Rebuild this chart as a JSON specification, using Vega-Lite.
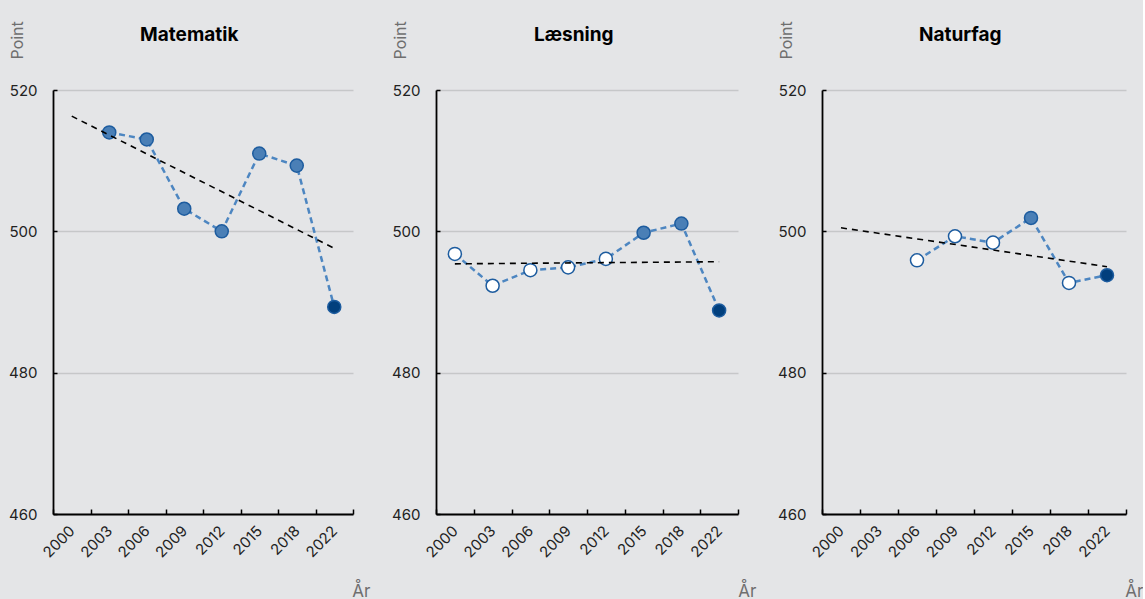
{
  "$schema": "https://vega.github.io/schema/vega-lite/v6.json",
  "background": "#e4e5e7",
  "padding": {"left": 8, "top": 20, "right": 0, "bottom": 0},
  "spacing": 21,
  "datasets": {
    "scores": [
      {"fag": "Matematik", "år": "2003", "point": 514, "status": "signifikant"},
      {"fag": "Matematik", "år": "2006", "point": 513, "status": "signifikant"},
      {"fag": "Matematik", "år": "2009", "point": 503.2, "status": "signifikant"},
      {"fag": "Matematik", "år": "2012", "point": 500, "status": "signifikant"},
      {"fag": "Matematik", "år": "2015", "point": 511, "status": "signifikant"},
      {"fag": "Matematik", "år": "2018", "point": 509.3, "status": "signifikant"},
      {"fag": "Matematik", "år": "2022", "point": 489.3, "status": "2022"},
      {"fag": "Læsning", "år": "2000", "point": 496.8, "status": "ikke signifikant"},
      {"fag": "Læsning", "år": "2003", "point": 492.3, "status": "ikke signifikant"},
      {"fag": "Læsning", "år": "2006", "point": 494.5, "status": "ikke signifikant"},
      {"fag": "Læsning", "år": "2009", "point": 494.9, "status": "ikke signifikant"},
      {"fag": "Læsning", "år": "2012", "point": 496.1, "status": "ikke signifikant"},
      {"fag": "Læsning", "år": "2015", "point": 499.8, "status": "signifikant"},
      {"fag": "Læsning", "år": "2018", "point": 501.1, "status": "signifikant"},
      {"fag": "Læsning", "år": "2022", "point": 488.8, "status": "2022"},
      {"fag": "Naturfag", "år": "2006", "point": 495.9, "status": "ikke signifikant"},
      {"fag": "Naturfag", "år": "2009", "point": 499.3, "status": "ikke signifikant"},
      {"fag": "Naturfag", "år": "2012", "point": 498.4, "status": "ikke signifikant"},
      {"fag": "Naturfag", "år": "2015", "point": 501.9, "status": "signifikant"},
      {"fag": "Naturfag", "år": "2018", "point": 492.7, "status": "ikke signifikant"},
      {"fag": "Naturfag", "år": "2022", "point": 493.8, "status": "2022"}
    ],
    "trend": [
      {"fag": "Matematik", "år": "2000", "point": 516.3},
      {"fag": "Matematik", "år": "2022", "point": 497.6},
      {"fag": "Læsning", "år": "2000", "point": 495.4},
      {"fag": "Læsning", "år": "2022", "point": 495.7},
      {"fag": "Naturfag", "år": "2000", "point": 500.5},
      {"fag": "Naturfag", "år": "2022", "point": 495.0}
    ]
  },
  "config": {
    "font": "Inter",
    "view": {"stroke": null},
    "title": {"fontSize": 19, "fontWeight": "bold", "color": "#000000", "anchor": "middle", "frame": "bounds", "offset": -24},
    "axis": {
      "domainColor": "#000000",
      "domainWidth": 1.8,
      "tickColor": "#000000",
      "tickWidth": 1.5,
      "labelColor": "#222222",
      "labelFontSize": 15,
      "titleColor": "#6f6f6f",
      "titleFontWeight": "normal",
      "titleFontSize": 16
    }
  },
  "hconcat": [
    {
      "width": 300, "height": 424,
      "title": {"text": "Matematik"},
      "layer": [
        {"data": {"name": "scores"}, "transform": [{"filter": "datum.fag === 'Matematik'"}],
         "mark": {"type": "line", "color": "#4d86c1", "strokeWidth": 2.5, "strokeDash": [6, 4]},
         "encoding": {
           "x": {"field": "år", "type": "ordinal", "scale": {"type": "band", "domain": ["2000","2003","2006","2009","2012","2015","2018","2022"], "paddingInner": 0, "paddingOuter": 0},
                 "axis": {"title": "År", "tickBand": "extent", "tickSize": -5, "labelAngle": -45, "labelAlign": "right", "labelBaseline": "middle", "labelPadding": 19, "labelFontSize": 15, "grid": false, "titleAnchor": "end", "titleAlign": "right", "titleBaseline": "alphabetic", "titleFontSize": 17, "titleX": 317, "titleY": 82}},
           "y": {"field": "point", "type": "quantitative", "scale": {"domain": [460, 520], "nice": false, "zero": false},
                 "axis": {"title": "Point", "values": [460, 480, 500, 520], "grid": true, "gridColor": "#c6c7c9", "gridWidth": 1.6, "tickSize": -4, "labelPadding": 20, "titleAngle": -90, "titleAlign": "left", "titleBaseline": "middle", "titleX": -36, "titleY": -31}}
         }},
        {"data": {"name": "scores"}, "transform": [{"filter": "datum.fag === 'Matematik'"}],
         "mark": {"type": "point", "filled": true, "size": 170, "opacity": 1, "strokeWidth": 1.5, "stroke": "#1d5c9f"},
         "encoding": {
           "x": {"field": "år", "type": "ordinal"},
           "y": {"field": "point", "type": "quantitative"},
           "fill": {"field": "status", "type": "nominal", "scale": {"domain": ["ikke signifikant", "signifikant", "2022"], "range": ["#ffffff", "#4a7fb6", "#013f7d"]}, "legend": null}
         }},
        {"data": {"name": "trend"}, "transform": [{"filter": "datum.fag === 'Matematik'"}],
         "mark": {"type": "line", "color": "#000000", "strokeWidth": 1.6, "strokeDash": [6, 5]},
         "encoding": {"x": {"field": "år", "type": "ordinal"}, "y": {"field": "point", "type": "quantitative"}}}
      ]
    },
    {
      "width": 302, "height": 424,
      "title": {"text": "Læsning"},
      "layer": [
        {"data": {"name": "scores"}, "transform": [{"filter": "datum.fag === 'Læsning'"}],
         "mark": {"type": "line", "color": "#4d86c1", "strokeWidth": 2.5, "strokeDash": [6, 4]},
         "encoding": {
           "x": {"field": "år", "type": "ordinal", "scale": {"type": "band", "domain": ["2000","2003","2006","2009","2012","2015","2018","2022"], "paddingInner": 0, "paddingOuter": 0},
                 "axis": {"title": "År", "tickBand": "extent", "tickSize": -5, "labelAngle": -45, "labelAlign": "right", "labelBaseline": "middle", "labelPadding": 19, "labelFontSize": 15, "grid": false, "titleAnchor": "end", "titleAlign": "right", "titleBaseline": "alphabetic", "titleFontSize": 17, "titleX": 320, "titleY": 82}},
           "y": {"field": "point", "type": "quantitative", "scale": {"domain": [460, 520], "nice": false, "zero": false},
                 "axis": {"title": "Point", "values": [460, 480, 500, 520], "grid": true, "gridColor": "#c6c7c9", "gridWidth": 1.6, "tickSize": -4, "labelPadding": 20, "titleAngle": -90, "titleAlign": "left", "titleBaseline": "middle", "titleX": -36, "titleY": -31}}
         }},
        {"data": {"name": "scores"}, "transform": [{"filter": "datum.fag === 'Læsning'"}],
         "mark": {"type": "point", "filled": true, "size": 170, "opacity": 1, "strokeWidth": 1.5, "stroke": "#1d5c9f"},
         "encoding": {
           "x": {"field": "år", "type": "ordinal"},
           "y": {"field": "point", "type": "quantitative"},
           "fill": {"field": "status", "type": "nominal", "scale": {"domain": ["ikke signifikant", "signifikant", "2022"], "range": ["#ffffff", "#4a7fb6", "#013f7d"]}, "legend": null}
         }},
        {"data": {"name": "trend"}, "transform": [{"filter": "datum.fag === 'Læsning'"}],
         "mark": {"type": "line", "color": "#000000", "strokeWidth": 1.6, "strokeDash": [6, 5]},
         "encoding": {"x": {"field": "år", "type": "ordinal"}, "y": {"field": "point", "type": "quantitative"}}}
      ]
    },
    {
      "width": 304, "height": 424,
      "title": {"text": "Naturfag"},
      "layer": [
        {"data": {"name": "scores"}, "transform": [{"filter": "datum.fag === 'Naturfag'"}],
         "mark": {"type": "line", "color": "#4d86c1", "strokeWidth": 2.5, "strokeDash": [6, 4]},
         "encoding": {
           "x": {"field": "år", "type": "ordinal", "scale": {"type": "band", "domain": ["2000","2003","2006","2009","2012","2015","2018","2022"], "paddingInner": 0, "paddingOuter": 0},
                 "axis": {"title": "År", "tickBand": "extent", "tickSize": -5, "labelAngle": -45, "labelAlign": "right", "labelBaseline": "middle", "labelPadding": 19, "labelFontSize": 15, "grid": false, "titleAnchor": "end", "titleAlign": "right", "titleBaseline": "alphabetic", "titleFontSize": 17, "titleX": 321, "titleY": 82}},
           "y": {"field": "point", "type": "quantitative", "scale": {"domain": [460, 520], "nice": false, "zero": false},
                 "axis": {"title": "Point", "values": [460, 480, 500, 520], "grid": true, "gridColor": "#c6c7c9", "gridWidth": 1.6, "tickSize": -4, "labelPadding": 20, "titleAngle": -90, "titleAlign": "left", "titleBaseline": "middle", "titleX": -36, "titleY": -31}}
         }},
        {"data": {"name": "scores"}, "transform": [{"filter": "datum.fag === 'Naturfag'"}],
         "mark": {"type": "point", "filled": true, "size": 170, "opacity": 1, "strokeWidth": 1.5, "stroke": "#1d5c9f"},
         "encoding": {
           "x": {"field": "år", "type": "ordinal"},
           "y": {"field": "point", "type": "quantitative"},
           "fill": {"field": "status", "type": "nominal", "scale": {"domain": ["ikke signifikant", "signifikant", "2022"], "range": ["#ffffff", "#4a7fb6", "#013f7d"]}, "legend": null}
         }},
        {"data": {"name": "trend"}, "transform": [{"filter": "datum.fag === 'Naturfag'"}],
         "mark": {"type": "line", "color": "#000000", "strokeWidth": 1.6, "strokeDash": [6, 5]},
         "encoding": {"x": {"field": "år", "type": "ordinal"}, "y": {"field": "point", "type": "quantitative"}}}
      ]
    }
  ]
}
